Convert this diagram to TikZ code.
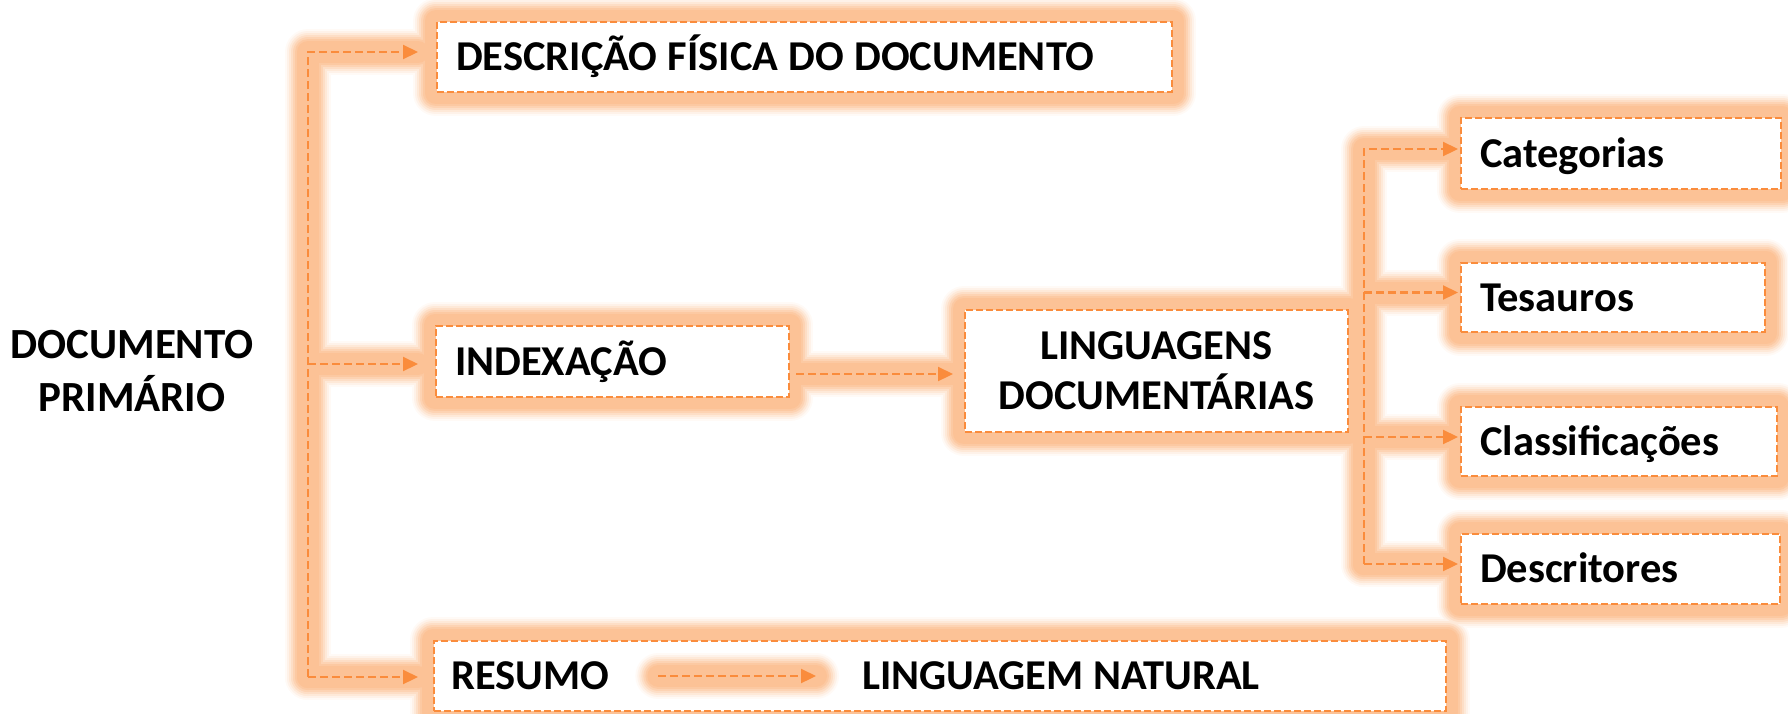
\documentclass[tikz,border=0pt]{standalone}
\usepackage{fontspec}
\setmainfont{Carlito}
\usetikzlibrary{arrows.meta,calc}
\definecolor{lc}{RGB}{250,140,60}
\definecolor{gc}{RGB}{250,148,70}
\pgfdeclarelayer{bg}
\pgfsetlayers{bg,main}
\newcommand\glowall[1]{%
  \draw[#1] (desc.south west) rectangle (desc.north east);
  \draw[#1] (idx.south west) rectangle (idx.north east);
  \draw[#1] (ling.south west) rectangle (ling.north east);
  \draw[#1] (cat.south west) rectangle (cat.north east);
  \draw[#1] (tes.south west) rectangle (tes.north east);
  \draw[#1] (cla.south west) rectangle (cla.north east);
  \draw[#1] (des.south west) rectangle (des.north east);
  \draw[#1] (res.south west) rectangle (res.north east);
  \draw[#1, shorten >=18pt] (lb) -- (lt) -- (lt -| desc.west);
  \draw[#1, shorten >=17pt] (lm) -- (lm -| idx.west);
  \draw[#1, shorten >=15pt] (lb) -- (lb -| res.west);
  \draw[#1, shorten >=2pt] (rb) -- (rt) -- (rt -| cat.west);
  \draw[#1, shorten >=2pt] (r2) -- (r2 -| tes.west);
  \draw[#1, shorten >=2pt] (r3) -- (r3 -| cla.west);
  \draw[#1, shorten >=2pt] (rb) -- (rb -| des.west);
  \draw[#1, shorten <=6pt, shorten >=11pt] (idx.east |- ia) -- (ling.west |- ia);
}
\begin{document}
\begin{tikzpicture}[x=1pt,y=-1pt,
  fnt/.style={font=\fontsize{42.5}{50}\selectfont\bfseries},
  frame/.style={draw=lc, line width=2.2pt, dash pattern=on 7pt off 3pt, fill=white,
    inner xsep=19pt, inner ysep=0pt, anchor=north west, fnt},
  lbox/.style={frame, text height=27pt, text depth=0pt, align=left},
  txt/.style={fnt, inner sep=0pt, text=black},
  conn/.style={draw=lc, line width=2.2pt, dash pattern=on 8pt off 4pt,
    -{Triangle[length=15pt,width=14pt]}},
  glowopt/.style={line join=round, line cap=round}]
\useasboundingbox (0,0) rectangle (1788,713);

% boxes
\node[lbox, minimum height=70pt, text width=697pt] (desc) at (436,21) {\spaceskip=10.3pt DESCRIÇÃO FÍSICA DO DOCUMENTO};
\node[lbox, minimum height=71pt, text width=315pt] (idx) at (435,325) {INDEXAÇÃO};
\node[frame, align=center, text width=345pt, minimum height=122pt,
      font=\fontsize{42.5}{50}\selectfont\bfseries] (ling) at (964,309) {LINGUAGENS\\DOCUMENTÁRIAS};
\node[lbox, minimum height=71pt, text width=282pt] (cat) at (1460,117) {Categorias};
\node[lbox, minimum height=69pt, text width=266pt] (tes) at (1460,262) {Tesauros};
\node[lbox, minimum height=69pt, text width=278pt] (cla) at (1460,406) {Classificações};
\node[lbox, minimum height=70pt, text width=281pt] (des) at (1460,533) {Descritores};
\node[frame, minimum width=1012pt, minimum height=70pt] (res) at (433,640) {};
\node[txt, anchor=west, text height=27pt, text depth=0pt] (resumo) at (451,676) {RESUMO};
\node[txt, anchor=west, text height=27pt, text depth=0pt] (natural) at (862,676) {LINGUAGEM NATURAL};
\node[txt, align=center, font=\fontsize{43}{53}\selectfont\bfseries] (doc) at (132,371.5) {DOCUMENTO\\PRIMÁRIO};

% trunk coordinates
\coordinate (lt) at (308,52);
\coordinate (lm) at (308,364);
\coordinate (lb) at (308,677);
\coordinate (rt) at (1364,149);
\coordinate (r2) at (1364,292.5);
\coordinate (r3) at (1364,437);
\coordinate (rb) at (1364,564);
\coordinate (ia) at (0,374);

% glow
\begin{pgfonlayer}{bg}
\foreach \w/\c in {46/5,42/12,38/21,34/31,30/41,26/50,22/57}{
  \glowall{glowopt, line width=\w pt, draw=gc!\c}
}
\end{pgfonlayer}
\foreach \w/\c in {46/5,42/12,38/21,34/31,30/41,26/50,22/57}{
  \draw[glowopt, line width=\w pt, draw=gc!\c, shorten <=49pt, shorten >=46pt] (resumo.east) -- (natural.west);
}

% connectors
\draw[conn, shorten >=18pt] (lb) -- (lt) -- (lt -| desc.west);
\draw[conn, shorten >=17pt] (lm) -- (lm -| idx.west);
\draw[conn, shorten >=15pt] (lb) -- (lb -| res.west);
\draw[conn, shorten >=2pt] (rb) -- (rt) -- (rt -| cat.west);
\draw[conn, shorten >=2pt] (r2) -- (r2 -| tes.west);
\draw[conn, shorten >=2pt] (r3) -- (r3 -| cla.west);
\draw[conn, shorten >=2pt] (rb) -- (rb -| des.west);
\draw[conn, shorten <=6pt, shorten >=11pt] (idx.east |- ia) -- (ling.west |- ia);
\draw[conn, shorten <=49pt, shorten >=46pt] (resumo.east) -- (natural.west);
\end{tikzpicture}
\end{document}
